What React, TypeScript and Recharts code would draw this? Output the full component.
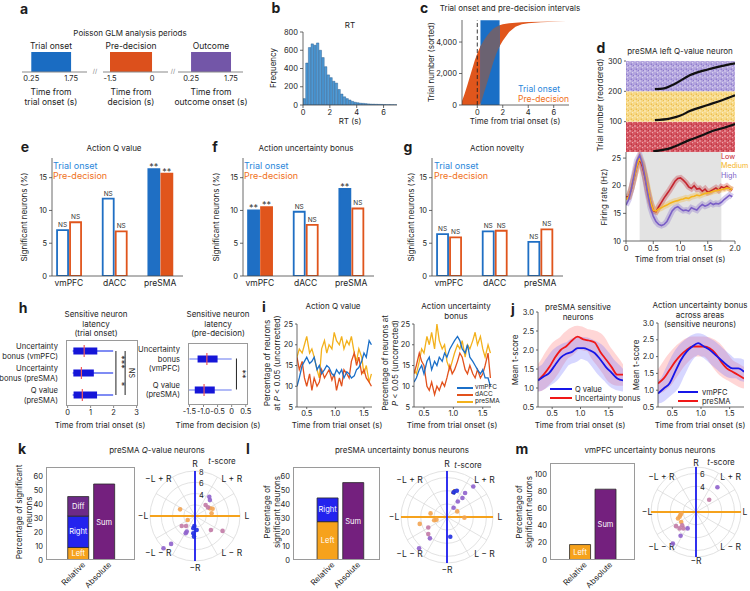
import React from 'react';
import {
  ComposedChart, BarChart, LineChart, ScatterChart, RadarChart,
  Bar, Line, Area, Scatter, Cell, LabelList, XAxis, YAxis,
  ReferenceLine, ReferenceArea, PolarGrid, PolarAngleAxis,
} from 'recharts';

const FONT = 'Inter, "Liberation Sans", Arial, sans-serif';
const INK = '#1d1d1d';
const BLUE = '#1f6fc4';
const ORANGE = '#e0551c';
const tk = { fontSize: 7.5, fill: INK };
const ax = { stroke: '#444', strokeWidth: 0.8 };

// ---------- a: analysis periods ----------
const periodNames = ['Trial onset', 'Pre-decision', 'Outcome'];
const periodStart = [0.25, -1.5, 0.25];
const periodEnd = [1.75, 0, 1.75];
const periodAxisTitle = ['Time from\ntrial onset (s)', 'Time from\ndecision (s)', 'Time from\noutcome onset (s)'];

// ---------- b: RT histogram ----------
const rtBinCenters = [0.1, 0.3, 0.5, 0.7, 0.9, 1.1, 1.3, 1.5, 1.7, 1.9, 2.1, 2.3, 2.5, 2.7, 2.9, 3.1, 3.3, 3.5, 3.7, 3.9, 4.1, 4.3, 4.5, 4.7, 4.9, 5.1, 5.3, 5.5, 5.7, 5.9, 6.1, 6.3, 6.5, 6.7, 6.9];
const rtCounts = [70, 460, 630, 670, 655, 680, 600, 520, 420, 330, 300, 260, 240, 170, 120, 90, 70, 55, 40, 30, 25, 20, 18, 15, 12, 10, 9, 8, 7, 6, 5, 4, 4, 3, 3];

// ---------- c: intervals (sorted trials covered at each time) ----------
const cTime = [-1.4, -1.2, -1.0, -0.8, -0.6, -0.4, -0.2, 0, 0.25, 0.5, 0.75, 1.0, 1.25, 1.5, 1.75, 2.0, 2.5, 3.0, 3.5, 4.0, 5.0, 6.0, 7.0];
const cLower = [0, 0, 0, 0, 0, 0, 0, 0, 30, 700, 1350, 2010, 2700, 3270, 3740, 4080, 4640, 4970, 5130, 5190, 5250, 5290, 5300];
const cUpper = [30, 250, 700, 1210, 1750, 2290, 2820, 3270, 3740, 4080, 4380, 4640, 4850, 4970, 5070, 5130, 5190, 5230, 5250, 5270, 5290, 5300, 5300];
const trialCount = 5380;
const onsetWindow = [0.25, 1.75];

// ---------- d: example neuron ----------
const rasterFirstTrial = [0, 100, 200];
const rasterLastTrial = [100, 200, 300];
const rasterSpan = [0, 2];
const rtLowTime = [0.5, 0.8, 1.17, 1.4, 1.6, 1.8, 2.0];
const rtLowTrial = [2, 12, 40, 55, 70, 80, 92];
const rtMedTime = [0.53, 0.8, 1.0, 1.17, 1.5, 1.75, 2.0];
const rtMedTrial = [105, 110, 120, 135, 155, 170, 187];
const rtHighTime = [0.53, 0.7, 0.9, 1.17, 1.5, 1.75, 2.0];
const rtHighTrial = [207, 210, 225, 253, 272, 283, 292];

const frTime = [0, 0.05, 0.1, 0.15, 0.2, 0.25, 0.3, 0.35, 0.4, 0.45, 0.5, 0.55, 0.6, 0.65, 0.7, 0.75, 0.8, 0.85, 0.9, 0.95, 1.0, 1.05, 1.1, 1.15, 1.2, 1.25, 1.3, 1.35, 1.4, 1.45, 1.5, 1.55, 1.6, 1.65, 1.7, 1.75, 1.8, 1.85, 1.9, 1.95];
const frLow = [18, 18, 19.5, 21.5, 23.5, 24.8, 23.5, 21.5, 19, 17, 15.5, 15.3, 16.2, 17, 17.8, 18.5, 19.2, 20, 20.8, 21.3, 21.4, 21, 20.5, 19.8, 19.5, 20, 19.4, 19.5, 19, 19.4, 18.8, 19, 19.3, 19.6, 19.2, 19.8, 19.6, 19.9, 19.5, 19.2];
const frMed = [17.5, 18, 19.5, 21.5, 23.5, 25, 24, 22, 19.5, 17, 15.6, 15.4, 15.8, 16, 16.3, 16.5, 16.8, 17, 17.2, 17.3, 17.5, 17.6, 17.8, 17.7, 18, 18.1, 18.3, 18.2, 18.4, 18.6, 18.7, 18.8, 19, 19.1, 19.2, 19.3, 19.4, 19.6, 19.5, 19.3];
const frHigh = [16.5, 17.5, 19.5, 22, 24.5, 25.5, 24, 21.5, 18.5, 16, 14.5, 13.5, 13, 12.8, 13, 13.5, 14.5, 15.5, 16, 16.2, 15.8, 15.5, 15.6, 15.4, 16, 15.8, 15.6, 16.2, 16.6, 16.3, 16.5, 16.9, 16.6, 16.8, 16.7, 17, 17.5, 17.9, 18.3, 18];

// ---------- e, f, g: significant neurons ----------
const areas = ['vmPFC', 'dACC', 'preSMA'];
const qOnset = [7.0, 11.8, 16.3];
const qPre = [8.2, 6.8, 15.6];
const qOnsetSig = ['NS', 'NS', '**'];
const qPreSig = ['NS', 'NS', '**'];
const ubOnset = [10.0, 9.8, 13.3];
const ubPre = [10.5, 7.8, 10.3];
const ubOnsetSig = ['**', 'NS', '**'];
const ubPreSig = ['**', 'NS', 'NS'];
const novOnset = [6.4, 6.8, 5.2];
const novPre = [5.9, 6.9, 7.1];
const novOnsetSig = ['NS', 'NS', 'NS'];
const novPreSig = ['NS', 'NS', 'NS'];

// ---------- h: latency ----------
const latOnsetRows = ['Uncertainty\nbonus (vmPFC)', 'Uncertainty\nbonus (preSMA)', 'Q value\n(preSMA)'];
const latOnsetMin = [0.22, 0.22, 0.22];
const latOnsetQ1 = [0.25, 0.25, 0.26];
const latOnsetMed = [0.72, 0.6, 0.64];
const latOnsetQ3 = [1.29, 1.14, 1.28];
const latOnsetMax = [1.98, 1.98, 1.98];
const latOnsetSig = ['***', '*', 'NS'];
const latOnsetSigRows = [[0, 1], [1, 2], [0, 2]];
const latDecRows = ['Uncertainty\nbonus\n(vmPFC)', 'Q value\n(preSMA)'];
const latDecMin = [-1.5, -1.52];
const latDecQ1 = [-1.21, -1.31];
const latDecMed = [-0.88, -0.98];
const latDecQ3 = [-0.5, -0.6];
const latDecMax = [0, 0];
const latDecSig = ['**'];
const latDecSigRows = [[0, 1]];

// ---------- i: percentage over time ----------
const iTime = [0.33, 0.37, 0.42, 0.46, 0.5, 0.55, 0.59, 0.63, 0.68, 0.72, 0.76, 0.81, 0.85, 0.89, 0.94, 0.98, 1.02, 1.07, 1.11, 1.15, 1.2, 1.24, 1.28, 1.33, 1.37, 1.41, 1.46, 1.5, 1.54, 1.59, 1.63];
const iQvm = [10, 12, 15, 16, 17, 15.5, 16, 17, 14, 15, 13, 14, 15, 14.5, 13, 12.5, 14, 13, 14, 12, 13.5, 13, 12, 12.5, 14, 14.5, 16, 18, 17, 21, 20];
const iQda = [17, 14, 16, 12, 10, 13, 9, 12, 10, 11, 14, 12, 13, 14, 11.5, 13, 9, 12, 10, 14, 13, 12, 16, 18, 15, 17, 13, 14, 12, 11, 10];
const iQpre = [17, 19, 18, 20, 22, 18, 19, 17, 14, 12, 19, 21, 18, 20, 19, 23, 21, 20, 22, 19, 21, 20, 22, 18, 16, 19, 17, 13, 15, 11, 13];
const iUvm = [11, 12, 14, 15, 13, 16, 17, 14, 16, 15, 17, 16, 18, 17, 19, 20, 21, 22, 21, 19, 18, 20, 17, 16, 15, 14, 13, 14, 12, 12, 10];
const iUda = [13, 15, 18, 16, 15, 10, 9, 11, 8, 10, 9, 11, 10, 12, 15, 13, 14, 16, 18, 17, 14, 13, 15, 13, 12, 14, 12, 13, 15, 18, 12];
const iUpre = [14, 13, 16, 19, 18, 22, 20, 23, 19, 25, 21, 19, 20, 16, 14, 16, 18, 20, 19, 21, 17, 20, 19, 21, 23, 20, 22, 19, 17, 20, 18];

// ---------- j: mean t-score ----------
const jTime = [0.25, 0.35, 0.45, 0.55, 0.65, 0.75, 0.85, 0.95, 1.05, 1.15, 1.25, 1.35, 1.45, 1.55, 1.65, 1.75];
const jQvalue = [1.2, 1.3, 1.4, 1.6, 1.8, 1.9, 1.95, 2.05, 2.05, 2.0, 1.92, 1.75, 1.55, 1.4, 1.25, 1.2];
const jBonus = [1.2, 1.35, 1.55, 1.8, 2.0, 2.1, 2.25, 2.35, 2.28, 2.25, 2.2, 1.95, 1.75, 1.55, 1.35, 1.35];
const jVmpfc = [0.9, 1.05, 1.2, 1.55, 1.9, 2.15, 2.3, 2.4, 2.3, 2.2, 2.05, 1.9, 1.75, 1.65, 1.65, 1.55];
const jPresma = [1.2, 1.35, 1.6, 1.85, 2.05, 2.2, 2.3, 2.3, 2.3, 2.25, 2.1, 1.85, 1.65, 1.55, 1.45, 1.35];

// ---------- k, l, m: coding schemes ----------
const schemeCats = ['Relative', 'Absolute'];
const kLeft = [9, 0], kRight = [22.5, 0], kDiff = [14, 0], kSum = [0, 54.5];
const lLeft = [27.5, 0], lRight = [17, 0], lDiff = [0, 0], lSum = [0, 55.5];
const mLeft = [18, 0], mRight = [0, 0], mDiff = [0, 0], mSum = [0, 82.5];
const dirLabels = ['R', 'L + R', 'L', 'L − R', '−R', '−L − R', '−L', '−L + R'];
// t-score points: [L, R]
const kOrangePts = [[-2.65, 1.18], [2.65, 1.36], [3.13, 1.3], [2.95, 0.47], [-1.3, -0.71]];
const kMauvePts = [[4.9, -2.65], [2.3, 1.53], [1.89, 1.95], [2.83, -2.48], [-2.36, -1.77], [-1.59, -1.77]];
const kPurplePts = [[2.54, 3.42], [2.65, 2.83], [-1.47, -2.77], [-1.65, -3.07], [-4.25, -4.96], [-5.6, -5.72]];
const kBluePts = [[-0.12, -1.77], [-0.3, -2.18], [0.3, -2.48], [-0.18, -3.66], [-0.3, -3.07]];
const lOrangePts = [[1.55, 0.85], [2.65, -0.1], [-2.5, 0.55], [-1.6, -0.4], [-1.95, -0.5], [-4.15, -1.05]];
const lMauvePts = [[-2.85, -1.6], [-2.85, -2.6]];
const lPurplePts = [[4.0, 4.65], [2.75, 3.65], [2.35, 2.9], [1.65, 2.35], [1.0, 1.4], [-2.6, -3.25], [-4.25, -4.75]];
const lBluePts = [[1.5, 4.0], [1.0, 3.75], [0.5, -3.0]];
const mOrangePts = [[-2.3, -0.25], [-2.45, -0.5], [-2.55, -0.75], [-2.8, -1.0], [-2.3, -1.55]];
const mMauvePts = [[2.05, 1.9], [-3.1, -2.2], [-2.15, -2.05], [-2.55, -2.55], [-1.95, -2.55]];
const mPurplePts = [[3.33, 3.85], [-3.6, -4.9], [-2.4, -3.7], [-1.3, -2.55]];

// ---------- helpers ----------
function place(x0: number, y0: number, x1: number, y1: number, yw = 0, xh = 0, pad = 6) {
  return {
    wrap: { position: 'absolute', left: x0 - yw - pad, top: y0 - pad } as React.CSSProperties,
    width: x1 - x0 + yw + 2 * pad,
    height: y1 - y0 + xh + 2 * pad,
    margin: { top: pad, right: pad, bottom: pad, left: pad },
  };
}

function Tx({ x, y, s = 8, a = 'middle', c = INK, b = false, r = 0, children }: any) {
  const tx = a === 'middle' ? '-50%' : a === 'end' ? '-100%' : '0%';
  return (
    <div
      style={{
        position: 'absolute', left: x, top: y, transform: `translate(${tx},-50%) rotate(${r}deg)`,
        fontSize: s, color: c, fontWeight: b ? 700 : 400, whiteSpace: 'pre', lineHeight: 1.2,
        textAlign: a === 'start' ? 'left' : a === 'end' ? 'right' : 'center',
      }}
    >
      {children}
    </div>
  );
}

function Swatch({ x0, x1, y, c }: any) {
  return <div style={{ position: 'absolute', left: x0, top: y - 1, width: x1 - x0, height: 2, background: c }} />;
}

function Frame({ x0, y0, x1, y1 }: any) {
  return <div style={{ position: 'absolute', left: x0, top: y0, width: x1 - x0, height: y1 - y0, border: '1px solid #9a9a9a', boxSizing: 'border-box', pointerEvents: 'none' }} />;
}

// ---------- panels ----------
const periodColors = ['#1a6cc2', '#dc501c', '#7356a8'];
const periodAxes = [
  { x0: 22, x1: 87, dom: [-0.1, 2.35] },
  { x0: 103, x1: 168, dom: [-1.75, 0.57] },
  { x0: 178, x1: 243, dom: [-0.24, 2.2] },
];

function PeriodBox({ i }: { i: number }) {
  const b = periodAxes[i];
  const f = place(b.x0, 52, b.x1, 72, 0, 14);
  const data = [{ t: periodStart[i], v: 1 }, { t: periodEnd[i], v: 1 }];
  return (
    <div style={f.wrap}>
      <ComposedChart width={f.width} height={f.height} margin={f.margin} data={data}>
        <XAxis type="number" dataKey="t" domain={b.dom} ticks={[periodStart[i], periodEnd[i]]} allowDataOverflow interval={0}
          tick={tk} tickSize={2} tickLine={false} axisLine={{ stroke: '#8a8a8a', strokeWidth: 1.2 }} height={14} />
        <YAxis hide domain={[0, 1]} />
        <Area type="linear" dataKey="v" fill={periodColors[i]} fillOpacity={1} stroke="none" isAnimationActive={false} />
      </ComposedChart>
    </div>
  );
}

function PanelB() {
  const f = place(303, 32, 397, 105, 22, 14);
  const data = rtBinCenters.map((x, i) => ({ rt: x, n: rtCounts[i] }));
  return (
    <div style={f.wrap}>
      <BarChart width={f.width} height={f.height} margin={f.margin} data={data} barCategoryGap={0}>
        <XAxis type="number" dataKey="rt" domain={[0, 7]} ticks={[0, 2, 4, 6]} allowDataOverflow tick={tk} tickSize={3} axisLine={ax} tickLine={ax} height={14} />
        <YAxis domain={[0, 800]} ticks={[0, 200, 400, 600, 800]} allowDataOverflow width={22} tick={tk} tickSize={3} axisLine={ax} tickLine={ax} />
        <Bar dataKey="n" fill="#4e9ad6" stroke="#1d4f82" strokeWidth={0.4} barSize={2.7} isAnimationActive={false} />
      </BarChart>
    </div>
  );
}

function PanelC() {
  const f = place(462, 20, 569, 105, 24, 14);
  const data = cTime.map((t, i) => ({ t, band: [cLower[i], cUpper[i]] }));
  const overlap = data.filter((d) => d.t >= onsetWindow[0] && d.t <= onsetWindow[1]);
  const win = onsetWindow.map((t) => ({ t, v: trialCount }));
  return (
    <div style={f.wrap}>
      <ComposedChart width={f.width} height={f.height} margin={f.margin}>
        <XAxis type="number" dataKey="t" domain={[-1.2, 7.2]} ticks={[0, 2, 4, 6]} allowDataOverflow tick={tk} tickSize={3} axisLine={ax} tickLine={ax} height={14} />
        <YAxis type="number" domain={[0, 5400]} ticks={[0, 2000, 4000]} allowDataOverflow tickFormatter={(v: number) => v.toLocaleString('en-US')}
          width={24} tick={tk} tickSize={3} axisLine={ax} tickLine={ax} />
        <Area data={data} dataKey="band" type="linear" fill="#e0561c" fillOpacity={1} stroke="none" isAnimationActive={false} />
        <Area data={win} dataKey="v" type="linear" fill="#1a6fc6" fillOpacity={1} stroke="none" isAnimationActive={false} />
        <Area data={overlap} dataKey="band" type="linear" fill="#6b6271" fillOpacity={1} stroke="none" isAnimationActive={false} />
        <ReferenceLine x={0} stroke="#222" strokeDasharray="4 2.5" strokeWidth={0.9} />
      </ComposedChart>
    </div>
  );
}

const rasterFills = ['url(#rasLow)', 'url(#rasMed)', 'url(#rasHigh)'];

function Dots({ id, base, dark }: any) {
  return (
    <pattern id={id} width="5" height="5" patternUnits="userSpaceOnUse">
      <rect width="5" height="5" fill={base} />
      <circle cx="1" cy="1" r="0.7" fill="#fff" opacity="0.75" />
      <circle cx="3.6" cy="2.6" r="0.6" fill="#fff" opacity="0.6" />
      <circle cx="2.3" cy="4.2" r="0.6" fill={dark} opacity="0.8" />
      <circle cx="4.4" cy="0.4" r="0.5" fill={dark} opacity="0.6" />
    </pattern>
  );
}

function PanelDRaster() {
  const f = place(626, 61, 735, 152, 16, 0);
  const rtLines = [
    rtLowTime.map((t, i) => ({ t, trial: rtLowTrial[i] })),
    rtMedTime.map((t, i) => ({ t, trial: rtMedTrial[i] })),
    rtHighTime.map((t, i) => ({ t, trial: rtHighTrial[i] })),
  ];
  return (
    <div style={f.wrap}>
      <ComposedChart width={f.width} height={f.height} margin={f.margin}>
        <defs>
          <Dots id="rasLow" base="#d65561" dark="#9e1624" />
          <Dots id="rasMed" base="#f7d987" dark="#e0a41a" />
          <Dots id="rasHigh" base="#b3a5de" dark="#6a52bc" />
        </defs>
        <XAxis type="number" dataKey="t" domain={[0, 2]} hide allowDataOverflow />
        <YAxis type="number" domain={[0, 300]} ticks={[100, 200, 300]} allowDataOverflow width={16} tick={tk} tickSize={2} axisLine={false} tickLine={ax} />
        {rasterFirstTrial.map((lo, i) => (
          <Area key={i} data={rasterSpan.map((t) => ({ t, band: [lo, rasterLastTrial[i]] }))} dataKey="band" type="linear"
            fill={rasterFills[i]} fillOpacity={1} stroke="none" isAnimationActive={false} />
        ))}
        {rtLines.map((d, i) => (
          <Line key={i} data={d} dataKey="trial" type="monotone" stroke="#111" strokeWidth={2.2} dot={false} isAnimationActive={false} />
        ))}
      </ComposedChart>
    </div>
  );
}

const frSeries = [
  { key: 'low', color: '#c4252f' },
  { key: 'med', color: '#f5b41d' },
  { key: 'high', color: '#7a5ec6' },
];

function PanelDRate() {
  const f = place(626, 152, 735, 241, 14, 14);
  const data = frTime.map((t, i) => ({ t, low: frLow[i], med: frMed[i], high: frHigh[i] }));
  return (
    <div style={f.wrap}>
      <ComposedChart width={f.width} height={f.height} margin={f.margin} data={data}>
        <XAxis type="number" dataKey="t" domain={[0, 2]} ticks={[0, 0.5, 1, 1.5, 2]} allowDataOverflow interval={0}
          tickFormatter={(v: number) => (v === 0 ? '0' : v.toFixed(1))} tick={tk} tickSize={3} axisLine={ax} tickLine={ax} height={14} />
        <YAxis type="number" domain={[10, 26.1]} ticks={[10, 15, 20, 25]} allowDataOverflow width={14} tick={tk} tickSize={3} axisLine={ax} tickLine={ax} />
        <ReferenceArea x1={0.25} x2={1.75} fill="#e3e3e3" fillOpacity={1} stroke="none" />
        {frSeries.map((s) => (
          <Line key={s.key + 'h'} dataKey={s.key} stroke={s.color} strokeOpacity={0.3} strokeWidth={6} dot={false} isAnimationActive={false} />
        ))}
        {frSeries.map((s) => (
          <Line key={s.key} dataKey={s.key} stroke={s.color} strokeWidth={1.6} dot={false} isAnimationActive={false} />
        ))}
      </ComposedChart>
    </div>
  );
}

const sigLabel = (p: any) => {
  const { x, y, width, value } = p;
  const ns = value === 'NS';
  return (
    <text x={x + width / 2} y={ns ? y - 3 : y + 1} textAnchor="middle" fontSize={ns ? 6.5 : 9} fill="#333">
      {value}
    </text>
  );
};

function SigBars({ x0, onset, pre, onsetSig, preSig }: any) {
  const f = place(x0, 158, x0 + 131, 276, 14, 14);
  const data = areas.map((a, i) => ({ x: i, onset: onset[i], pre: pre[i], onsetSig: onsetSig[i], preSig: preSig[i] }));
  return (
    <div style={f.wrap}>
      <BarChart width={f.width} height={f.height} margin={f.margin} data={data} barGap={2}>
        <XAxis type="number" dataKey="x" domain={[-0.37, 2.5]} ticks={[0, 1, 2]} allowDataOverflow interval={0} tickFormatter={(v: number) => areas[v]}
          tick={{ fontSize: 8.5, fill: INK }} tickSize={2} tickLine={false} axisLine={ax} height={14} />
        <YAxis domain={[0, 18]} ticks={[0, 5, 10, 15]} allowDataOverflow width={14} tick={tk} tickSize={3} axisLine={ax} tickLine={ax} />
        <Bar dataKey="onset" stroke={BLUE} strokeWidth={1.8} barSize={11} isAnimationActive={false}>
          {data.map((d, i) => <Cell key={i} fill={d.onsetSig === 'NS' ? '#fff' : BLUE} />)}
          <LabelList dataKey="onsetSig" content={sigLabel} />
        </Bar>
        <Bar dataKey="pre" stroke={ORANGE} strokeWidth={1.8} barSize={11} isAnimationActive={false}>
          {data.map((d, i) => <Cell key={i} fill={d.preSig === 'NS' ? '#fff' : ORANGE} />)}
          <LabelList dataKey="preSig" content={sigLabel} />
        </Bar>
      </BarChart>
    </div>
  );
}

const RowTick = (p: any) => {
  const { x, y, payload } = p;
  const lines = String(payload.value).split('\n');
  const lh = 9.2;
  return (
    <text x={x} y={y} textAnchor="end" fontSize={7.6} fill={INK}>
      {lines.map((l, i) => (
        <tspan key={i} x={x} dy={i === 0 ? -((lines.length - 1) * lh) / 2 + 3 : lh}>{l}</tspan>
      ))}
    </text>
  );
};

const boxShape = (whisker: string) => (p: any) => {
  const { x, y, width, height, payload } = p;
  const sx = (v: number) => x + ((v - payload.lo) / (payload.hi - payload.lo)) * width;
  const cy = y + height / 2;
  return (
    <g>
      <line x1={x} x2={x + width} y1={cy} y2={cy} stroke={whisker} strokeWidth={1.6} />
      <rect x={sx(payload.q1)} y={cy - 3.5} width={sx(payload.q3) - sx(payload.q1)} height={7} fill="#1515d8" />
      <line x1={sx(payload.md)} x2={sx(payload.md)} y1={cy - 6} y2={cy + 6} stroke="#f25a5a" strokeWidth={1.2} />
    </g>
  );
};

const vLabel = (text: string) => (p: any) => {
  const vb = p.viewBox;
  const x = vb.x + 6;
  const y = vb.y + vb.height / 2;
  return (
    <text x={x} y={y} transform={`rotate(90 ${x} ${y})`} textAnchor="middle" dominantBaseline="central" fontSize={text === 'NS' ? 7 : 9} fill="#222">
      {text}
    </text>
  );
};

function LatencyBox({ x0, y0, x1, y1, dom, ticks, fmt, rows, mn, q1, md, q3, mx, sig, sigRows, sigX, whisker }: any) {
  const f = place(x0, y0, x1, y1, 64, 14);
  const data = rows.map((r: string, i: number) => ({ row: r, span: [mn[i], mx[i]], lo: mn[i], hi: mx[i], q1: q1[i], md: md[i], q3: q3[i] }));
  return (
    <>
      <div style={f.wrap}>
        <ComposedChart layout="vertical" width={f.width} height={f.height} margin={f.margin} data={data}>
          <XAxis type="number" domain={dom} ticks={ticks} allowDataOverflow interval={0} tickFormatter={fmt} tick={tk} tickSize={2} axisLine={false} tickLine={{ stroke: '#888' }} height={14} />
          <YAxis type="category" dataKey="row" width={64} axisLine={false} tickLine={false} tick={<RowTick />} interval={0} />
          <Bar dataKey="span" barSize={12} shape={boxShape(whisker)} isAnimationActive={false} />
          {sig.map((s: string, i: number) => (
            <ReferenceLine key={i} ifOverflow="visible" stroke="#222" strokeWidth={1}
              segment={[{ x: sigX[i], y: rows[sigRows[i][0]] }, { x: sigX[i], y: rows[sigRows[i][1]] }]} label={vLabel(s)} />
          ))}
        </ComposedChart>
      </div>
      <Frame x0={x0} y0={y0} x1={x1} y1={y1} />
    </>
  );
}

function NoisyPanel({ x0, x1, vm, da, pre }: any) {
  const f = place(x0, 324, x1, 407, 12, 14);
  const data = iTime.map((t, i) => ({ t, vm: vm[i], da: da[i], pre: pre[i] }));
  return (
    <div style={f.wrap}>
      <LineChart width={f.width} height={f.height} margin={f.margin} data={data}>
        <XAxis type="number" dataKey="t" domain={[0.33, 1.64]} ticks={[0.5, 1, 1.5]} allowDataOverflow interval={0} tickFormatter={(v: number) => v.toFixed(1)}
          tick={tk} tickSize={2} axisLine={ax} tickLine={ax} height={14} />
        <YAxis domain={[5, 25]} ticks={[5, 10, 15, 20, 25]} allowDataOverflow width={12} tick={tk} tickSize={2} axisLine={ax} tickLine={ax} />
        <Line dataKey="pre" stroke="#f3b11c" strokeWidth={1.3} dot={false} isAnimationActive={false} />
        <Line dataKey="da" stroke="#e2511c" strokeWidth={1.3} dot={false} isAnimationActive={false} />
        <Line dataKey="vm" stroke="#1b6fc8" strokeWidth={1.3} dot={false} isAnimationActive={false} />
      </LineChart>
    </div>
  );
}

function BandPanel({ x0, y0, x1, a, b, halo }: any) {
  const f = place(x0, y0, x1, 407, 14, 14);
  const data = jTime.map((t, i) => ({ t, a: a[i], b: b[i] }));
  return (
    <div style={f.wrap}>
      <LineChart width={f.width} height={f.height} margin={f.margin} data={data}>
        <XAxis type="number" dataKey="t" domain={[0.25, 1.75]} ticks={[0.5, 1, 1.5]} allowDataOverflow interval={0} tickFormatter={(v: number) => v.toFixed(1)}
          tick={tk} tickSize={2} axisLine={ax} tickLine={ax} height={14} />
        <YAxis domain={[0.5, 3]} ticks={[0.5, 1, 1.5, 2, 2.5, 3]} allowDataOverflow interval={0} tickFormatter={(v: number) => v.toFixed(1)}
          width={14} tick={tk} tickSize={2} axisLine={ax} tickLine={ax} />
        <Line dataKey="b" type="monotone" stroke="#ff6a6a" strokeOpacity={0.28} strokeWidth={halo} strokeLinecap="round" dot={false} isAnimationActive={false} />
        <Line dataKey="a" type="monotone" stroke="#6a6aff" strokeOpacity={0.28} strokeWidth={halo} strokeLinecap="round" dot={false} isAnimationActive={false} />
        <Line dataKey="b" type="monotone" stroke="#f01818" strokeWidth={1.8} dot={false} isAnimationActive={false} />
        <Line dataKey="a" type="monotone" stroke="#1616e8" strokeWidth={1.8} dot={false} isAnimationActive={false} />
      </LineChart>
    </div>
  );
}

const segDefs = [
  { key: 'left', name: 'Left', color: '#f6a21c' },
  { key: 'right', name: 'Right', color: '#2323ee' },
  { key: 'diff', name: 'Diff', color: '#6d2a88' },
  { key: 'sum', name: 'Sum', color: '#74207e' },
];

const segLabel = (name: string) => (p: any) => {
  const { x, y, width, height, value } = p;
  if (!value) return null;
  return (
    <text x={x + width / 2} y={y + height / 2} textAnchor="middle" dominantBaseline="central" fontSize={7.5} fill="#fff">{name}</text>
  );
};

const RotTick = (p: any) => {
  const { x, y, payload } = p;
  const label = schemeCats[payload.value];
  const tx = x + 5;
  const ty = y + 1;
  return (
    <text x={tx} y={ty} transform={`rotate(-45 ${tx} ${ty})`} textAnchor="end" dominantBaseline="central" fontSize={8} fill={INK}>{label}</text>
  );
};

function SchemeBars({ x0, x1, top, yMax, ticks, dom, left, right, diff, sum }: any) {
  const f = place(x0, top, x1, 560, 12, 30);
  const data = schemeCats.map((c, i) => ({ x: i, left: left[i], right: right[i], diff: diff[i], sum: sum[i] }));
  return (
    <>
      <div style={f.wrap}>
        <BarChart width={f.width} height={f.height} margin={f.margin} data={data}>
          <XAxis type="number" dataKey="x" domain={dom} ticks={[0, 1]} allowDataOverflow interval={0}
            tick={<RotTick />} tickSize={0} tickLine={false} axisLine={false} height={30} />
          <YAxis domain={[0, yMax]} ticks={ticks} allowDataOverflow interval={0} width={12} tick={tk} tickSize={0} tickMargin={3} axisLine={false} tickLine={false} />
          {segDefs.map((s) => (
            <Bar key={s.key} dataKey={s.key} stackId="a" fill={s.color} stroke="#2a2a2a" strokeWidth={0.8} barSize={21} isAnimationActive={false}>
              <LabelList dataKey={s.key} content={segLabel(s.name)} />
            </Bar>
          ))}
        </BarChart>
      </div>
      <Frame x0={x0} y0={top} x1={x1} y1={560} />
    </>
  );
}

const spokeAngles = [0, 30, 60, 90, 120, 150, 180, 210, 240, 270, 300, 330];

const DirTick = (p: any) => (
  <text x={p.x} y={p.y} textAnchor="middle" dominantBaseline="central" fontSize={8.5} fill={INK}>{p.payload.value}</text>
);

const ptColors = ['#f2a452', '#c27aa6', '#8f62cc', '#1f2de0'];

const dotShape = (color: string) => (p: any) => <circle cx={p.cx} cy={p.cy} r={2.3} fill={color} fillOpacity={0.9} />;

function PolarPanel({ cx, cy, R, rMax, rTicks, rShown, groups, labelGap = 7 }: any) {
  const S = 2 * R + 50;
  const dirs = dirLabels.map((d) => ({ dir: d }));
  const f = place(cx - R, cy - R, cx + R, cy + R, 0, 0, 4);
  return (
    <>
      <div style={{ position: 'absolute', left: cx - S / 2, top: cy - S / 2 }}>
        <RadarChart width={S} height={S} cx={S / 2} cy={S / 2} outerRadius={R} data={dirs} margin={{ top: 0, right: 0, bottom: 0, left: 0 }}>
          <PolarGrid gridType="circle" polarAngles={spokeAngles} polarRadius={rTicks.map((t: number) => (R * t) / rMax)} stroke="#dadada" strokeWidth={0.8} />
          <PolarAngleAxis dataKey="dir" tickSize={labelGap} tickLine={false} axisLine={false} tick={<DirTick />} />
        </RadarChart>
      </div>
      {rShown.map((t: number) => (
        <Tx key={t} x={cx + 4} y={cy - (R * t) / rMax + 1} a="start" s={7.5}>{String(t)}</Tx>
      ))}
      <div style={f.wrap}>
        <ScatterChart width={f.width} height={f.height} margin={f.margin}>
          <XAxis type="number" dataKey="l" domain={[-rMax, rMax]} hide allowDataOverflow />
          <YAxis type="number" dataKey="r" domain={[-rMax, rMax]} hide allowDataOverflow />
          <ReferenceLine y={0} stroke="#f5a21c" strokeWidth={1.8} />
          <ReferenceLine x={0} stroke="#1b1bef" strokeWidth={1.8} />
          {groups.map((g: number[][], i: number) => (
            <Scatter key={i} data={g.map((p) => ({ l: p[0], r: p[1] }))} fill={ptColors[i]} shape={dotShape(ptColors[i])} isAnimationActive={false} />
          ))}
        </ScatterChart>
      </div>
    </>
  );
}

export default function App() {
  return (
    <div style={{ position: 'absolute', left: 0, top: 0, width: 750, height: 591, background: '#fff', overflow: 'hidden', fontFamily: FONT, color: INK }}>
      {/* a */}
      <Tx x={24} y={9} s={14} b>a</Tx>
      <Tx x={130} y={34}>Poisson GLM analysis periods</Tx>
      {periodNames.map((n, i) => (
        <React.Fragment key={n}>
          <PeriodBox i={i} />
          <Tx x={[51, 131, 211][i]} y={46} s={8.5}>{n}</Tx>
          <Tx x={[51, 131, 211][i]} y={97} s={8.5}>{periodAxisTitle[i]}</Tx>
        </React.Fragment>
      ))}
      <Tx x={95} y={71} s={6} c="#777">//</Tx>
      <Tx x={173} y={71} s={6} c="#777">//</Tx>

      {/* b */}
      <Tx x={276} y={8} s={14} b>b</Tx>
      <Tx x={350} y={26}>RT</Tx>
      <PanelB />
      <Tx x={274} y={68} r={-90}>Frequency</Tx>
      <Tx x={350} y={122}>RT (s)</Tx>

      {/* c */}
      <Tx x={424} y={8} s={14} b>c</Tx>
      <Tx x={510} y={9}>Trial onset and pre-decision intervals</Tx>
      <PanelC />
      <Tx x={432} y={62} r={-90}>Trial number (sorted)</Tx>
      <Tx x={515} y={122}>Time from trial onset (s)</Tx>
      <Tx x={518} y={89} a="start" s={8.5} c="#2a86da">Trial onset</Tx>
      <Tx x={518} y={99} a="start" s={8.5} c="#f07020">Pre-decision</Tx>

      {/* d */}
      <Tx x={601} y={48} s={14} b>d</Tx>
      <Tx x={680} y={52}>preSMA left Q-value neuron</Tx>
      <PanelDRaster />
      <PanelDRate />
      <Tx x={601} y={105} r={-90}>Trial number (reordered)</Tx>
      <Tx x={605} y={197} r={-90}>Firing rate (Hz)</Tx>
      <Tx x={680} y={260}>Time from trial onset (s)</Tx>
      <Tx x={721} y={157} a="start" s={7.2} c="#c4252f">Low</Tx>
      <Tx x={721} y={166} a="start" s={7.2} c="#f5b41d">Medium</Tx>
      <Tx x={721} y={176} a="start" s={7.2} c="#7a5ec6">High</Tx>

      {/* e f g */}
      <Tx x={25} y={147} s={14} b>e</Tx>
      <Tx x={114} y={149}>Action Q value</Tx>
      <SigBars x0={52} onset={qOnset} pre={qPre} onsetSig={qOnsetSig} preSig={qPreSig} />
      <Tx x={215} y={147} s={14} b>f</Tx>
      <Tx x={306} y={149}>Action uncertainty bonus</Tx>
      <SigBars x0={243} onset={ubOnset} pre={ubPre} onsetSig={ubOnsetSig} preSig={ubPreSig} />
      <Tx x={408} y={147} s={14} b>g</Tx>
      <Tx x={497} y={149}>Action novelty</Tx>
      <SigBars x0={432} onset={novOnset} pre={novPre} onsetSig={novOnsetSig} preSig={novPreSig} />
      {[25, 217, 412].map((x) => (
        <Tx key={x} x={x} y={217} r={-90}>Significant neurons (%)</Tx>
      ))}
      {[53, 244, 434].map((x) => (
        <React.Fragment key={x}>
          <Tx x={x} y={166} a="start" s={9} c="#2a86da">Trial onset</Tx>
          <Tx x={x} y={176} a="start" s={9} c="#f07020">Pre-decision</Tx>
        </React.Fragment>
      ))}

      {/* h */}
      <Tx x={23} y={308} s={14} b>h</Tx>
      <Tx x={96} y={324}>{'Sensitive neuron\nlatency\n(trial onset)'}</Tx>
      <Tx x={218} y={324}>{'Sensitive neuron\nlatency\n(pre-decision)'}</Tx>
      <LatencyBox x0={66} y0={340} x1={138} y1={406} dom={[-0.07, 3.06]} ticks={[0, 1, 2, 3]} fmt={(v: number) => String(v)}
        rows={latOnsetRows} mn={latOnsetMin} q1={latOnsetQ1} md={latOnsetMed} q3={latOnsetQ3} mx={latOnsetMax}
        sig={latOnsetSig} sigRows={latOnsetSigRows} sigX={[2.1, 2.1, 2.5]} whisker="#5566f0" />
      <LatencyBox x0={188} y0={343} x1={248} y1={405} dom={[-1.55, 0.58]} ticks={[-1.5, -1, -0.5, 0, 0.5]}
        fmt={(v: number) => (v === 0 ? '0' : v.toFixed(1))}
        rows={latDecRows} mn={latDecMin} q1={latDecQ1} md={latDecMed} q3={latDecQ3} mx={latDecMax}
        sig={latDecSig} sigRows={latDecSigRows} sigX={[0.17]} whisker="#97a3f4" />
      <Tx x={100} y={426}>Time from trial onset (s)</Tx>
      <Tx x={218} y={426}>Time from decision (s)</Tx>

      {/* i */}
      <Tx x={264} y={307} s={14} b>i</Tx>
      <Tx x={333} y={307}>Action Q value</Tx>
      <Tx x={456} y={312}>{'Action uncertainty\nbonus'}</Tx>
      <NoisyPanel x0={297} x1={372} vm={iQvm} da={iQda} pre={iQpre} />
      <NoisyPanel x0={414} x1={491} vm={iUvm} da={iUda} pre={iUpre} />
      <Tx x={273} y={363} r={-90}>{'Percentage of neurons\nat '}<i>P</i>{' < 0.05 (uncorrected)'}</Tx>
      <Tx x={391} y={363} r={-90}>{'Percentage of neurons at\n'}<i>P</i>{' < 0.05 (uncorrected)'}</Tx>
      <Tx x={337} y={426}>Time from trial onset (s)</Tx>
      <Tx x={452} y={426}>Time from trial onset (s)</Tx>
      <Swatch x0={457} x1={473} y={388} c="#1b6fc8" />
      <Swatch x0={457} x1={473} y={395} c="#e2511c" />
      <Swatch x0={457} x1={473} y={402} c="#f3b11c" />
      <Tx x={475} y={388} a="start" s={6.5}>vmPFC</Tx>
      <Tx x={475} y={395} a="start" s={6.5}>dACC</Tx>
      <Tx x={475} y={402} a="start" s={6.5}>preSMA</Tx>

      {/* j */}
      <Tx x={513} y={309} s={14} b>j</Tx>
      <Tx x={578} y={313}>{'preSMA sensitive\nneurons'}</Tx>
      <Tx x={700} y={315}>{'Action uncertainty bonus\nacross areas\n(sensitive neurons)'}</Tx>
      <BandPanel x0={538} y0={312} x1={623} a={jQvalue} b={jBonus} halo={22} />
      <BandPanel x0={658} y0={323} x1={744} a={jVmpfc} b={jPresma} halo={20} />
      <Tx x={516} y={360} r={-90}>Mean t-score</Tx>
      <Tx x={637} y={365} r={-90}>Mean t-score</Tx>
      <Tx x={580} y={426}>Time from trial onset (s)</Tx>
      <Tx x={700} y={426}>Time from trial onset (s)</Tx>
      <Swatch x0={550} x1={572} y={389} c="#1616e8" />
      <Swatch x0={550} x1={572} y={398} c="#f01818" />
      <Tx x={575} y={389} a="start" s={7.5}>Q value</Tx>
      <Tx x={575} y={398} a="start" s={7.5}>Uncertainty bonus</Tx>
      <Swatch x0={678} x1={698} y={392} c="#1616e8" />
      <Swatch x0={678} x1={698} y={401} c="#f01818" />
      <Tx x={702} y={392} a="start" s={7.5}>vmPFC</Tx>
      <Tx x={702} y={401} a="start" s={7.5}>preSMA</Tx>

      {/* k */}
      <Tx x={22} y={449} s={14} b>k</Tx>
      <Tx x={157} y={451}>preSMA <i>Q</i>-value neurons</Tx>
      <SchemeBars x0={46} x1={135} top={467} yMax={66.7} ticks={[0, 10, 20, 30, 40, 50, 60]} dom={[-1.26, 2.17]}
        left={kLeft} right={kRight} diff={kDiff} sum={kSum} />
      <Tx x={25} y={512} r={-90}>{'Percentage of significant\nneurons'}</Tx>
      <PolarPanel cx={195} cy={516} R={45} rMax={8} rTicks={[2, 4, 6, 8]} rShown={[4, 6, 8]}
        groups={[kOrangePts, kMauvePts, kPurplePts, kBluePts]} />
      <Tx x={222} y={462}><i>t</i>-score</Tx>

      {/* l */}
      <Tx x={248} y={449} s={14} b>l</Tx>
      <Tx x={402} y={451}>preSMA uncertainty bonus neurons</Tx>
      <SchemeBars x0={293} x1={380} top={467} yMax={66.7} ticks={[0, 10, 20, 30, 40, 50, 60]} dom={[-1.36, 2.03]}
        left={lLeft} right={lRight} diff={lDiff} sum={lSum} />
      <Tx x={273} y={512} r={-90}>{'Percentage of\nsignificant neurons'}</Tx>
      <PolarPanel cx={447} cy={517} R={46} rMax={7} rTicks={[2, 4, 6, 7]} rShown={[4]}
        groups={[lOrangePts, lMauvePts, lPurplePts, lBluePts]} />
      <Tx x={468} y={466}><i>t</i>-score</Tx>

      {/* m */}
      <Tx x={522} y={449} s={14} b>m</Tx>
      <Tx x={650} y={451}>vmPFC uncertainty bonus neurons</Tx>
      <SchemeBars x0={550} x1={635} top={463} yMax={113} ticks={[0, 20, 40, 60, 80, 100]} dom={[-1.19, 2.15]}
        left={mLeft} right={mRight} diff={mDiff} sum={mSum} />
      <Tx x={525} y={512} r={-90}>{'Percentage of\nsignificant neurons'}</Tx>
      <PolarPanel cx={696} cy={512} R={45} rMax={7} rTicks={[2, 4, 6, 7]} rShown={[4, 6]} labelGap={4}
        groups={[mOrangePts, mMauvePts, mPurplePts, []]} />
      <Tx x={721} y={463}><i>t</i>-score</Tx>
    </div>
  );
}
